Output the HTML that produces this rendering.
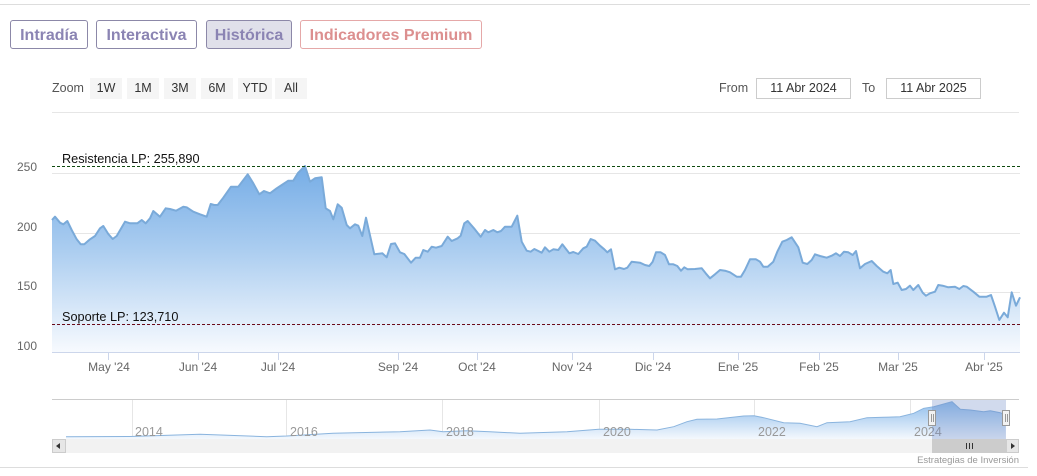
<!DOCTYPE html>
<html><head><meta charset="utf-8"><style>
html,body{margin:0;padding:0;background:#fff;}
body{width:1037px;height:476px;position:relative;overflow:hidden;font-family:"Liberation Sans",sans-serif;}
.tab{position:absolute;top:20px;border:1px solid #8c88a8;border-radius:3px;box-sizing:border-box;height:29px;font-weight:bold;font-size:16px;color:#8b84b3;line-height:29px;text-align:center;}
.zb{position:absolute;top:78px;height:21px;background:#f5f5f5;font-size:12.5px;color:#333;line-height:21px;text-align:center;}
.inp{position:absolute;top:78px;height:21px;border:1px solid #ccc;box-sizing:border-box;font-size:12.5px;color:#333;line-height:19px;text-align:center;}
.lbl{position:absolute;font-size:12.5px;color:#555;}
</style></head><body>
<div style="position:absolute;left:0;top:4px;width:1030px;height:1px;background:#ddd"></div>
<div class="tab" style="left:10px;width:78px">Intradía</div>
<div class="tab" style="left:96px;width:101px">Interactiva</div>
<div class="tab" style="left:206px;width:86px;background:#e0e0ea">Histórica</div>
<div class="tab" style="left:300px;width:182px;color:#dc8f8f;border-color:#e5a8a8">Indicadores Premium</div>

<div class="lbl" style="left:52px;top:81px">Zoom</div>
<div class="zb" style="left:90px;width:32px">1W</div>
<div class="zb" style="left:127px;width:32px">1M</div>
<div class="zb" style="left:164px;width:32px">3M</div>
<div class="zb" style="left:201px;width:32px">6M</div>
<div class="zb" style="left:238px;width:34px">YTD</div>
<div class="zb" style="left:275px;width:32px">All</div>
<div class="lbl" style="left:719px;top:81px">From</div>
<div class="inp" style="left:756px;width:95px">11 Abr 2024</div>
<div class="lbl" style="left:862px;top:81px">To</div>
<div class="inp" style="left:886px;width:95px">11 Abr 2025</div>
<div style="position:absolute;left:52px;top:112px;width:967px;height:1px;background:#e6e6e6"></div>

<svg width="1037" height="476" style="position:absolute;left:0;top:0" xmlns="http://www.w3.org/2000/svg" font-family="Liberation Sans, sans-serif">
<defs>
<linearGradient id="g1" gradientUnits="userSpaceOnUse" x1="0" y1="166" x2="0" y2="352">
<stop offset="0" stop-color="#76ade6"/>
<stop offset="0.45" stop-color="#abcdf0"/>
<stop offset="1" stop-color="#f7fafe"/>
</linearGradient>
<linearGradient id="g2" gradientUnits="userSpaceOnUse" x1="0" y1="400" x2="0" y2="439">
<stop offset="0" stop-color="#8cbbeb"/>
<stop offset="1" stop-color="#f4f8fd"/>
</linearGradient>
</defs>
<g stroke="#e6e6e6" stroke-width="1">
<line x1="52" y1="173.5" x2="1020" y2="173.5"/>
<line x1="52" y1="233.5" x2="1020" y2="233.5"/>
<line x1="52" y1="292.5" x2="1020" y2="292.5"/>
</g>
<g font-size="12" fill="#666" text-anchor="end">
<text x="37" y="171">250</text>
<text x="37" y="231">200</text>
<text x="37" y="290">150</text>
<text x="37" y="350">100</text>
</g>
<path fill="url(#g1)" stroke="none" d="M52,220 L55,216.7 L60,222.7 L63.3,224.3 L67.3,221 L71.7,230 L76.7,239.3 L80.7,244.3 L84.3,244.3 L90,239.3 L95,236 L100,228.3 L103.3,226 L108.3,234 L112.7,239 L116.7,236 L125,221.7 L130,223.3 L137.3,223.3 L141.7,220 L145.7,223.3 L150,218.3 L153.3,211 L160,216.7 L165.7,208.3 L170,209 L176,210.7 L183.3,206.7 L186.7,207.3 L193.3,211.7 L200,214.3 L206.7,216.7 L210.7,204 L214.3,205 L217.7,205 L223.3,197.7 L231,186.7 L238.3,186.7 L247.7,174.3 L253.3,183.3 L259.3,194.3 L264,191 L270,193.3 L276.7,188.3 L283.3,184 L288.3,180.7 L293.3,180.7 L298,173 L305,166 L310,181.7 L315,178.3 L321.7,177.3 L325.7,208.3 L330,211 L333.3,219.3 L337.7,204.3 L341.7,207.7 L346.7,225 L350,228.3 L355,224.3 L358.3,225.7 L362.3,236 L366,217.7 L374.3,254.3 L382.3,253.3 L386.7,257.3 L391,244 L395,243.3 L400,252.3 L404.3,254 L411,262.7 L415.7,257.7 L420,257.7 L423.3,250 L427.7,251.7 L431.7,246.7 L436,247.7 L441.7,246 L447.7,236.7 L451.7,241 L457.7,238.3 L460.7,235.7 L464.3,223.3 L467.7,221 L474,228.3 L480.7,236.7 L485,230 L488.3,232.3 L493.3,230 L497.3,232.3 L501,231 L505,226.7 L511.7,226.7 L517.3,215.7 L521.7,241.7 L526.7,250.7 L530.7,251.7 L534.3,249 L541.7,252.7 L545,247.3 L549.3,251.7 L553.3,249.3 L558.3,250 L562.3,244.3 L569.3,253.3 L573.3,252 L578.3,254 L583.3,248.3 L586.7,246.7 L590.7,239 L595,240.7 L600,245.7 L604.3,249.3 L607.3,252.3 L611,249.3 L615,269.3 L619.3,267.7 L624,269 L627.3,267.7 L631.7,261.7 L640,262.7 L645,265 L649.3,266 L652.7,261.7 L656,252.3 L660.7,252.3 L665,255 L669,264.3 L673.3,264.3 L677.3,266 L681,270.7 L684.3,267.3 L687.7,269.3 L695,269 L701.7,268.3 L705.7,273.3 L710,278.3 L715,274.3 L720,270 L725,270.7 L730,272.3 L736.7,276.7 L741,276.7 L745,270 L750,259.3 L756,259.3 L760,261.7 L763.3,266.7 L767.7,266.7 L773.3,261.7 L777.3,251.7 L782.3,241.7 L786.7,240 L791.7,237.3 L798.3,247.3 L802.7,262.7 L807.3,264 L811.7,260 L815,254.3 L820,256 L826.7,257.7 L831.7,255.7 L836,253.3 L840,256 L844,251.7 L848.3,252.3 L852.7,255 L856,251 L860,268.3 L865,264 L871.7,261 L876.7,266 L883.3,271.7 L887.3,273.3 L890.7,270 L893.3,284 L897.7,282.7 L901.7,290 L906,289 L910,285.7 L913.3,290 L918.3,285 L922.7,292.7 L926,295.7 L930,293.3 L935,291.7 L938.3,285 L942.7,285.7 L948.3,287.3 L955,286.7 L959.3,289 L963.3,286 L966.7,286.7 L973.3,291.7 L979.3,296.7 L986.7,296.7 L991,295 L995,306.7 L999.3,320 L1004,312.7 L1007.7,317.3 L1011.7,292.3 L1016,305.7 L1020,297.3 L1020,352 L52,352 Z"/>
<path fill="none" stroke="#7aaad9" stroke-width="2" stroke-linejoin="round" d="M52,220 L55,216.7 L60,222.7 L63.3,224.3 L67.3,221 L71.7,230 L76.7,239.3 L80.7,244.3 L84.3,244.3 L90,239.3 L95,236 L100,228.3 L103.3,226 L108.3,234 L112.7,239 L116.7,236 L125,221.7 L130,223.3 L137.3,223.3 L141.7,220 L145.7,223.3 L150,218.3 L153.3,211 L160,216.7 L165.7,208.3 L170,209 L176,210.7 L183.3,206.7 L186.7,207.3 L193.3,211.7 L200,214.3 L206.7,216.7 L210.7,204 L214.3,205 L217.7,205 L223.3,197.7 L231,186.7 L238.3,186.7 L247.7,174.3 L253.3,183.3 L259.3,194.3 L264,191 L270,193.3 L276.7,188.3 L283.3,184 L288.3,180.7 L293.3,180.7 L298,173 L305,166 L310,181.7 L315,178.3 L321.7,177.3 L325.7,208.3 L330,211 L333.3,219.3 L337.7,204.3 L341.7,207.7 L346.7,225 L350,228.3 L355,224.3 L358.3,225.7 L362.3,236 L366,217.7 L374.3,254.3 L382.3,253.3 L386.7,257.3 L391,244 L395,243.3 L400,252.3 L404.3,254 L411,262.7 L415.7,257.7 L420,257.7 L423.3,250 L427.7,251.7 L431.7,246.7 L436,247.7 L441.7,246 L447.7,236.7 L451.7,241 L457.7,238.3 L460.7,235.7 L464.3,223.3 L467.7,221 L474,228.3 L480.7,236.7 L485,230 L488.3,232.3 L493.3,230 L497.3,232.3 L501,231 L505,226.7 L511.7,226.7 L517.3,215.7 L521.7,241.7 L526.7,250.7 L530.7,251.7 L534.3,249 L541.7,252.7 L545,247.3 L549.3,251.7 L553.3,249.3 L558.3,250 L562.3,244.3 L569.3,253.3 L573.3,252 L578.3,254 L583.3,248.3 L586.7,246.7 L590.7,239 L595,240.7 L600,245.7 L604.3,249.3 L607.3,252.3 L611,249.3 L615,269.3 L619.3,267.7 L624,269 L627.3,267.7 L631.7,261.7 L640,262.7 L645,265 L649.3,266 L652.7,261.7 L656,252.3 L660.7,252.3 L665,255 L669,264.3 L673.3,264.3 L677.3,266 L681,270.7 L684.3,267.3 L687.7,269.3 L695,269 L701.7,268.3 L705.7,273.3 L710,278.3 L715,274.3 L720,270 L725,270.7 L730,272.3 L736.7,276.7 L741,276.7 L745,270 L750,259.3 L756,259.3 L760,261.7 L763.3,266.7 L767.7,266.7 L773.3,261.7 L777.3,251.7 L782.3,241.7 L786.7,240 L791.7,237.3 L798.3,247.3 L802.7,262.7 L807.3,264 L811.7,260 L815,254.3 L820,256 L826.7,257.7 L831.7,255.7 L836,253.3 L840,256 L844,251.7 L848.3,252.3 L852.7,255 L856,251 L860,268.3 L865,264 L871.7,261 L876.7,266 L883.3,271.7 L887.3,273.3 L890.7,270 L893.3,284 L897.7,282.7 L901.7,290 L906,289 L910,285.7 L913.3,290 L918.3,285 L922.7,292.7 L926,295.7 L930,293.3 L935,291.7 L938.3,285 L942.7,285.7 L948.3,287.3 L955,286.7 L959.3,289 L963.3,286 L966.7,286.7 L973.3,291.7 L979.3,296.7 L986.7,296.7 L991,295 L995,306.7 L999.3,320 L1004,312.7 L1007.7,317.3 L1011.7,292.3 L1016,305.7 L1020,297.3"/>
<line x1="52" y1="166.5" x2="1020" y2="166.5" stroke="#0f4a0f" stroke-width="1" stroke-dasharray="3,2"/>
<line x1="52" y1="324.5" x2="1020" y2="324.5" stroke="#6a0a1a" stroke-width="1" stroke-dasharray="3,2"/>
<text x="62" y="163" font-size="12.7" fill="#111">Resistencia LP: 255,890</text>
<text x="62" y="321" font-size="12.7" fill="#111">Soporte LP: 123,710</text>
<line x1="52" y1="352.5" x2="1020" y2="352.5" stroke="#ccd6eb" stroke-width="1"/>
<g stroke="#ccd6eb" stroke-width="1">
<line x1="108.5" y1="352" x2="108.5" y2="360"/>
<line x1="198.5" y1="352" x2="198.5" y2="360"/>
<line x1="278.5" y1="352" x2="278.5" y2="360"/>
<line x1="398.5" y1="352" x2="398.5" y2="360"/>
<line x1="477.5" y1="352" x2="477.5" y2="360"/>
<line x1="572.5" y1="352" x2="572.5" y2="360"/>
<line x1="653.5" y1="352" x2="653.5" y2="360"/>
<line x1="738.5" y1="352" x2="738.5" y2="360"/>
<line x1="819.5" y1="352" x2="819.5" y2="360"/>
<line x1="898.5" y1="352" x2="898.5" y2="360"/>
<line x1="984.5" y1="352" x2="984.5" y2="360"/>
</g>
<g font-size="12" fill="#666" text-anchor="middle">
<text x="109" y="371">May '24</text>
<text x="198" y="371">Jun '24</text>
<text x="278" y="371">Jul '24</text>
<text x="398" y="371">Sep '24</text>
<text x="477" y="371">Oct '24</text>
<text x="572" y="371">Nov '24</text>
<text x="653" y="371">Dic '24</text>
<text x="738" y="371">Ene '25</text>
<text x="819" y="371">Feb '25</text>
<text x="898" y="371">Mar '25</text>
<text x="984" y="371">Abr '25</text>
</g>
<g stroke="#e6e6e6" stroke-width="1">
<line x1="132.5" y1="399" x2="132.5" y2="439"/>
<line x1="286.5" y1="399" x2="286.5" y2="439"/>
<line x1="442.5" y1="399" x2="442.5" y2="439"/>
<line x1="599.5" y1="399" x2="599.5" y2="439"/>
<line x1="754.5" y1="399" x2="754.5" y2="439"/>
<line x1="910.5" y1="399" x2="910.5" y2="439"/>
</g>
<path fill="url(#g2)" stroke="none" d="M66,436.7 L130,436.5 L200,434.3 L266.7,436.7 L286.7,436 L333,433.3 L400,431.7 L430,430 L443,431.7 L466.7,430.7 L490,431.7 L520,433.3 L567,431.7 L598.7,429.3 L630,429.3 L657,430 L673.7,426.7 L687,421.7 L697,419.3 L717,419 L743.7,416 L754,415.7 L763.7,417.7 L783.7,422.7 L800,423.3 L817,426.7 L827,422.7 L850,421.7 L867,417.7 L883.7,417.3 L900,416.7 L913.7,413.3 L923.7,408.3 L933.7,406.7 L943.7,404 L952,401.7 L960.3,409.3 L970.3,410 L983.7,411.7 L990.3,410.7 L1000.3,412.7 L1005.7,415 L1005.7,439 L66,439 Z"/>
<path fill="none" stroke="#8ab4de" stroke-width="1" d="M66,436.7 L130,436.5 L200,434.3 L266.7,436.7 L286.7,436 L333,433.3 L400,431.7 L430,430 L443,431.7 L466.7,430.7 L490,431.7 L520,433.3 L567,431.7 L598.7,429.3 L630,429.3 L657,430 L673.7,426.7 L687,421.7 L697,419.3 L717,419 L743.7,416 L754,415.7 L763.7,417.7 L783.7,422.7 L800,423.3 L817,426.7 L827,422.7 L850,421.7 L867,417.7 L883.7,417.3 L900,416.7 L913.7,413.3 L923.7,408.3 L933.7,406.7 L943.7,404 L952,401.7 L960.3,409.3 L970.3,410 L983.7,411.7 L990.3,410.7 L1000.3,412.7 L1005.7,415"/>
<g font-size="12.5" fill="#999">
<text x="135" y="436">2014</text>
<text x="290" y="436">2016</text>
<text x="446" y="436">2018</text>
<text x="603" y="436">2020</text>
<text x="758" y="436">2022</text>
<text x="914" y="436">2024</text>
</g>
<rect x="932" y="399" width="74" height="40" fill="rgba(102,133,194,0.3)"/>
<line x1="52" y1="399.5" x2="1019" y2="399.5" stroke="#cccccc" stroke-width="1"/>
<g fill="#f2f2f2" stroke="#999" stroke-width="1">
<rect x="928.5" y="410.5" width="7" height="15"/>
<rect x="1002.5" y="410.5" width="7" height="15"/>
</g>
<g stroke="#999" stroke-width="1">
<line x1="931.5" y1="414" x2="931.5" y2="422"/><line x1="933.5" y1="414" x2="933.5" y2="422"/>
<line x1="1005.5" y1="414" x2="1005.5" y2="422"/><line x1="1007.5" y1="414" x2="1007.5" y2="422"/>
</g>
<rect x="52" y="439" width="967" height="14" fill="#f2f2f2"/>
<rect x="932" y="439" width="74" height="14" fill="#cccccc"/>
<g stroke="#333" stroke-width="1"><line x1="966.5" y1="443" x2="966.5" y2="449"/><line x1="969.5" y1="443" x2="969.5" y2="449"/><line x1="972.5" y1="443" x2="972.5" y2="449"/></g>
<rect x="52.5" y="439.5" width="13" height="13" fill="#e6e6e6" stroke="#ccc" stroke-width="1"/>
<rect x="1006.5" y="439.5" width="12" height="13" fill="#e6e6e6" stroke="#ccc" stroke-width="1"/>
<path d="M60,443 L56,446 L60,449 Z" fill="#333"/>
<path d="M1011,443 L1015,446 L1011,449 Z" fill="#333"/>
<text x="1019" y="463" font-size="9.5" fill="#999" text-anchor="end">Estrategias de Inversión</text>
<line x1="0" y1="467.5" x2="1028" y2="467.5" stroke="#ddd" stroke-width="1"/>
</svg>
</body></html>
